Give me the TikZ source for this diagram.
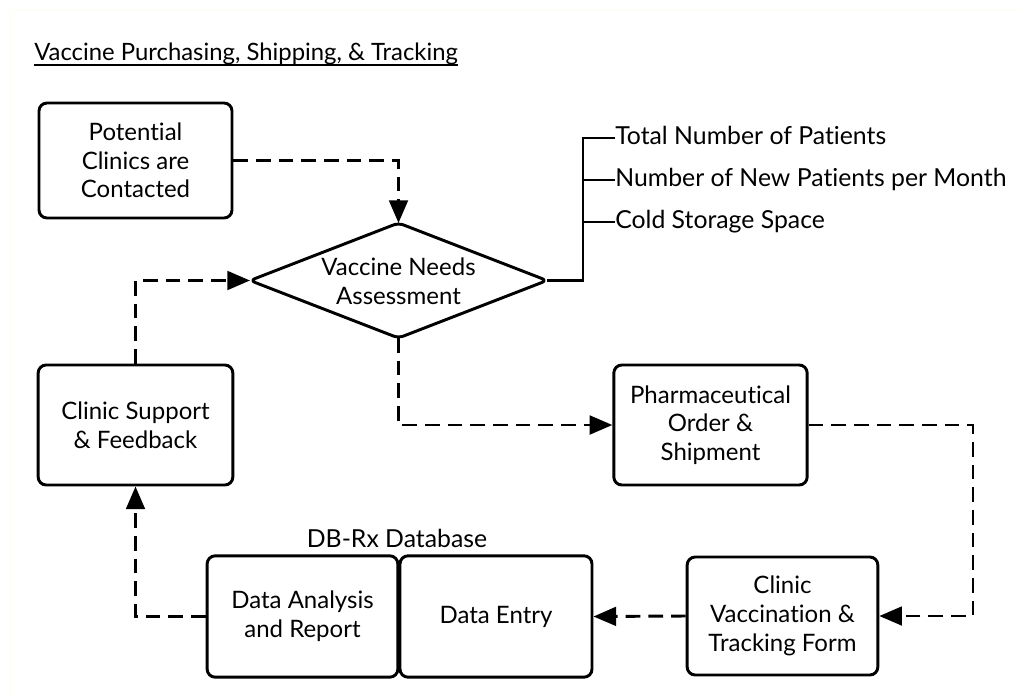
\documentclass[tikz,border=0pt]{standalone}
\usepackage{fontspec}
\setmainfont[Ligatures={NoCommon}]{Lato}
\usetikzlibrary{arrows.meta}
\newcommand\nodefont{\fontsize{18pt}{21.5pt}\selectfont}
\newcommand\listfont{\fontsize{18.6pt}{21.5pt}\selectfont}
\newcommand\titlefont{\fontsize{17.9pt}{20pt}\selectfont}
\begin{document}
\begin{tikzpicture}[x=0.75pt,y=-0.75pt,
  box/.style={draw, line width=2.2pt, rounded corners=6pt, align=center, inner sep=0pt, font=\nodefont},
  lbl/.style={inner sep=0pt, font=\listfont, text height=13pt, text depth=4pt},
  flow/.style={line width=2.2pt, dash pattern=on 11pt off 6pt, -{Triangle[length=17pt,width=14pt]}},
  solidline/.style={line width=2.2pt},
  frame/.style={draw=black!8!yellow!4!white, line width=1.2pt}]
\useasboundingbox (0,0) rectangle (1020,696);
\fill[white] (0,0) rectangle (1020,696);
\draw[frame] (10,696) -- (10,10) -- (1020,10);

% title
\node[inner sep=0pt, anchor=base west, font=\titlefont] (title) at (34,60) {Vaccine Purchasing, Shipping, \& Tracking};
\draw[line width=1.6pt] ([yshift=-4pt]title.base west) -- ([yshift=-4pt]title.base east);

% boxes
\node[box, minimum width=144.75pt, minimum height=86.25pt] (pc) at (135.5,160.5) {Potential\\Clinics are\\Contacted};
\node[box, minimum width=146pt, minimum height=90pt] (cs) at (135.5,425) {Clinic Support\\\& Feedback};
\node[box, minimum width=145pt, minimum height=90pt] (ph) at (710.5,425) {Pharmaceutical\\Order \&\\Shipment};
\node[box, minimum width=143pt, minimum height=88.5pt] (cv) at (782.5,616) {Clinic\\Vaccination \&\\Tracking Form};
\node[box, minimum width=143pt, minimum height=91pt] (da) at (302.5,616.5) {Data Analysis\\and Report};
\node[box, minimum width=144pt, minimum height=91pt] (de) at (496,616.5) {Data Entry};
\node[inner sep=0pt, font=\listfont, anchor=base] (db) at (397,547) {DB-Rx Database};

% diamond
\coordinate (vl) at (250,280.5);
\coordinate (vt) at (398.5,223);
\coordinate (vr) at (547,280.5);
\coordinate (vb) at (398.5,338);
\draw[line width=2.2pt, rounded corners=4pt, line join=round] (vl) -- (vt) -- (vr) -- (vb) -- cycle;
\node[align=center, inner sep=0pt, font=\nodefont] (vna) at (398.5,281) {Vaccine Needs\\Assessment};

% assessment criteria
\node[lbl, anchor=west] (t1) at (615,138) {Total Number of Patients};
\node[lbl, anchor=west] (t2) at (615,180) {Number of New Patients per Month};
\node[lbl, anchor=west] (t3) at (615,222) {Cold Storage Space};
\coordinate (jx) at (583,138);
\draw[solidline, line join=miter] (vr) -| (jx) -- (t1.west);
\draw[solidline] (t2.west -| jx) -- (t2.west);
\draw[solidline] (t3.west -| jx) -- (t3.west);

% flows
\coordinate (c1) at (973,425);
\draw[flow] (pc.east) -| (vt);
\draw[flow] (cs.north) |- (vl);
\draw[flow] (vb) |- (ph.west);
\draw[flow] (ph.east) -- (c1) |- (cv.east);
\draw[flow] (cv.west) -- (de.east);
\draw[flow] (da.west) -| (cs.south);
\end{tikzpicture}
\end{document}
